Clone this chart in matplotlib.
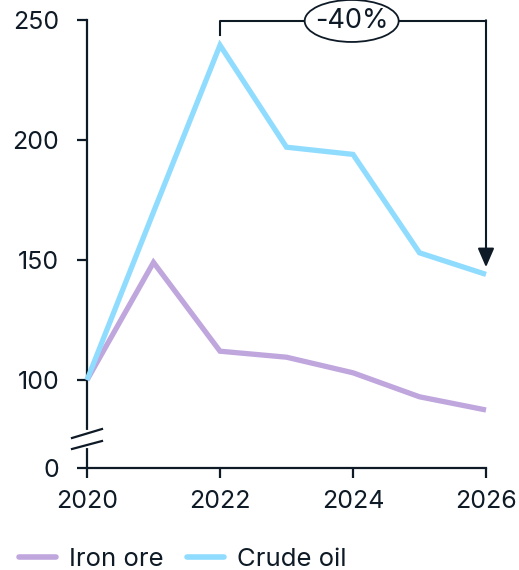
import matplotlib
matplotlib.use("Agg")
import matplotlib.pyplot as plt
from matplotlib.patches import Ellipse
from matplotlib.lines import Line2D

plt.rcParams['font.family'] = ['Inter', 'DejaVu Sans']

years = [2020, 2021, 2022, 2023, 2024, 2025, 2026]
iron_ore = [100, 149, 112, 109.5, 103, 93, 87.5]
crude_oil = [100, 170, 239.5, 197, 194, 153, 144]
xticks = [2020, 2022, 2024, 2026]
yticks = [100, 150, 200, 250]
series_names = ["Iron ore", "Crude oil"]
change_label = "-40%"

DARK = "#0e1a26"
C_IRON = "#bfa6dd"
C_OIL = "#8fdcff"

# broken axis: visual zero placed below 100
Y_ZERO = 100 - 88 / 2.4

fig = plt.figure(figsize=(5.19, 5.70), dpi=100)
ax = fig.add_axes([87 / 519, 1 - 468 / 570, (486 - 87) / 519, (468 - 20) / 570])
ax.set_xlim(2020, 2026)
ax.set_ylim(Y_ZERO, 250)

ax.plot(years, iron_ore, color=C_IRON, lw=3.8, solid_capstyle='butt', solid_joinstyle='miter', clip_on=False, zorder=3)
ax.plot(years, crude_oil, color=C_OIL, lw=3.8, solid_capstyle='butt', solid_joinstyle='miter', clip_on=False, zorder=4)

for s in ['top', 'right']:
    ax.spines[s].set_visible(False)
for s in ['left', 'bottom']:
    ax.spines[s].set_color(DARK)
    ax.spines[s].set_linewidth(1.6)

ax.set_xticks(xticks)
ax.set_xticklabels([str(x) for x in xticks])
ax.set_yticks([Y_ZERO] + yticks)
ax.set_yticklabels(["0"] + [str(y) for y in yticks])
ax.tick_params(axis='both', colors=DARK, labelcolor=DARK, labelsize=18,
               length=7, width=1.6, direction='out')
ax.tick_params(axis='y', pad=13)
ax.tick_params(axis='x', pad=9)

# axis break marks
trans = ax.transAxes
def px(xp, yp):
    x0, y0 = 87, 468
    return ((xp - x0) / 399, (y0 - yp) / 448)

ax.add_line(Line2D(*zip(px(87, 432), px(87, 446)), transform=trans, color='white', lw=3, clip_on=False, zorder=5))
for (a, b) in [((72, 438), (102, 429)), ((72, 449), (102, 441))]:
    p1, p2 = px(*a), px(*b)
    ax.add_line(Line2D([p1[0], p2[0]], [p1[1], p2[1]], transform=trans, color=DARK, lw=1.6, clip_on=False, zorder=6))

# bracket annotation
top_y = 249.6
ax.plot([2022, 2022, 2026], [243.8, top_y, top_y], color=DARK, lw=1.5, clip_on=False, zorder=5)
ax.annotate("", xy=(2026, 147), xytext=(2026, top_y + 0.3),
            arrowprops=dict(arrowstyle='-|>,head_length=1.15,head_width=0.5', color=DARK, lw=1.5,
                            shrinkA=0, shrinkB=0), annotation_clip=False, zorder=5)
ell = Ellipse((2023.98, top_y), width=94 / 66.5, height=42 / 2.4, facecolor='white',
              edgecolor=DARK, lw=1.3, clip_on=False, zorder=6)
ax.add_patch(ell)
ax.text(2023.98, top_y, change_label, ha='center', va='center', fontsize=19.5, color=DARK, zorder=7, clip_on=False)

handles = [Line2D([], [], color=C_IRON, lw=4, solid_capstyle='round'),
           Line2D([], [], color=C_OIL, lw=4, solid_capstyle='round')]
fig.legend(handles, series_names, loc='lower left', bbox_to_anchor=(-0.008, -0.043), ncol=2, frameon=False,
           fontsize=18.5, handlelength=1.45, handletextpad=0.5, columnspacing=0.9, labelcolor=DARK)

fig.savefig("out.png", dpi=100)
